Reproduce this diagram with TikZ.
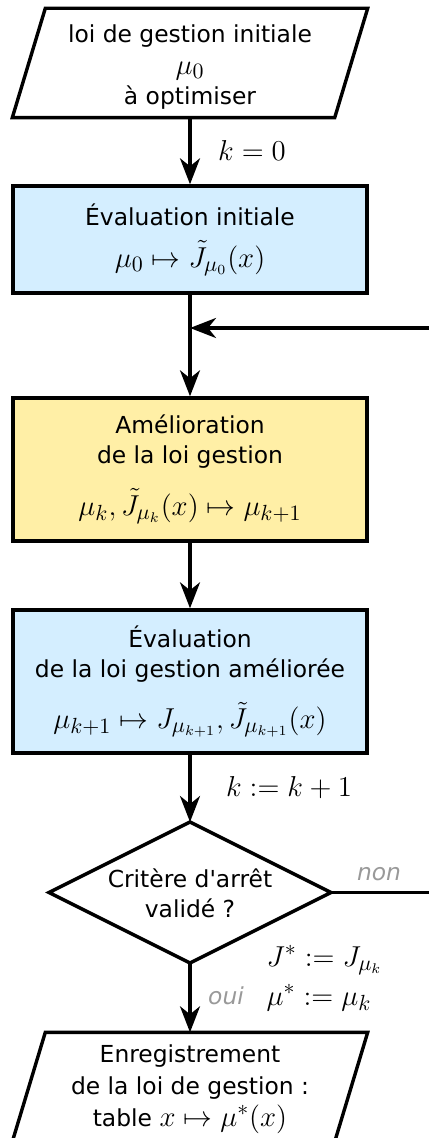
\documentclass[tikz,border=0pt]{standalone}
\usepackage[no-math]{fontspec}
\setmainfont[Scale=0.78]{DejaVu Sans}
\usetikzlibrary{arrows.meta}
\definecolor{boxblue}{HTML}{D4EEFF}
\definecolor{boxyellow}{HTML}{FFEFA6}
\definecolor{lblgray}{HTML}{999999}
\begin{document}
\begin{tikzpicture}[x=0.5pt,y=-0.5pt,
  font=\fontsize{15}{15}\selectfont,
  line width=1.7pt,
  arr/.style={-{Stealth[length=13pt,width=10pt,inset=4pt]}},
  proc/.style={draw, rectangle, minimum width=177pt, align=center, inner sep=0pt},
  txt/.style={align=center, inner sep=0pt},
  lbl/.style={inner sep=0pt, text=lblgray, font=\fontsize{15}{15}\selectfont\itshape}]
\useasboundingbox (0,0) rectangle (428,1138);

% input
\coordinate (inc) at (190,63);
\node[txt, minimum width=159.5pt, minimum height=53pt] (in) at (inc) {};
\node[txt] (intext) at (190,67)
  {loi de gestion initiale\\[1pt]$\mu_0$\\à optimiser};
\draw ([xshift=8.25pt]in.north west) -- ([xshift=8.25pt]in.north east)
  -- ([xshift=-8.25pt]in.south east) -- ([xshift=-8.25pt]in.south west) -- cycle;

% boxes
\node[proc, fill=boxblue, minimum height=53.5pt] (b1) at (190,239.5)
  {Évaluation initiale\\[6pt]$\mu_0\mapsto\tilde J_{\mu_0}(x)$};
\node[proc, fill=boxyellow, minimum height=71.5pt] (b2) at (190,469.5)
  {Amélioration\\de la loi gestion\\[9pt]$\mu_k,\tilde J_{\mu_k}(x)\mapsto\mu_{k+1}$};
\node[proc, fill=boxblue, minimum height=71.5pt] (b3) at (190,681.5)
  {Évaluation\\de la loi gestion améliorée\\[9pt]$\mu_{k+1}\mapsto J_{\mu_{k+1}},\tilde J_{\mu_{k+1}}(x)$};

% decision
\node[txt] (d) at (190,893) {Critère d\textquotesingle arrêt\\validé~?};
\coordinate (dt) at (190,822);
\coordinate (dr) at (331,892.5);
\coordinate (db) at (190,963);
\coordinate (dl) at (49,892.5);
\draw (dt) -- (dr) -- (db) -- (dl) -- cycle;

% output
\node[txt, minimum width=159.5pt, minimum height=53pt] (out) at (190,1087) {};
\node[txt] (outtext) at (190,1089)
  {Enregistrement\\[1pt]de la loi de gestion :\\[1pt]table $x\mapsto\mu^*(x)$};
\draw ([xshift=8.25pt]out.north west) -- ([xshift=8.25pt]out.north east)
  -- ([xshift=-8.25pt]out.south east) -- ([xshift=-8.25pt]out.south west) -- cycle;

% connectors
\coordinate (j) at (190,328);
\coordinate (loop) at (450,892.5);
\draw[arr] (in.south) -- (b1.north);
\draw[arr] (b1.south) -- (b2.north);
\draw[arr] (b2.south) -- (b3.north);
\draw[arr] (b3.south) -- (dt);
\draw[arr] (db) -- (out.north);
\draw[arr] (dr) -- (loop) |- (j);

% labels
\node (k0) at (252,151) {$k=0$};
\node (k1) at (289,788) {$k:=k+1$};
\node[lbl] (non) at (379,874) {non};
\node[lbl] (oui) at (226,996) {oui};
\node[anchor=base west, inner sep=0pt] (js) at (265,966) {$J^*:=J_{\mu_k}$};
\node[anchor=base west, inner sep=0pt] (ms) at (265,1005) {$\mu^*:=\mu_k$};
\end{tikzpicture}
\end{document}
